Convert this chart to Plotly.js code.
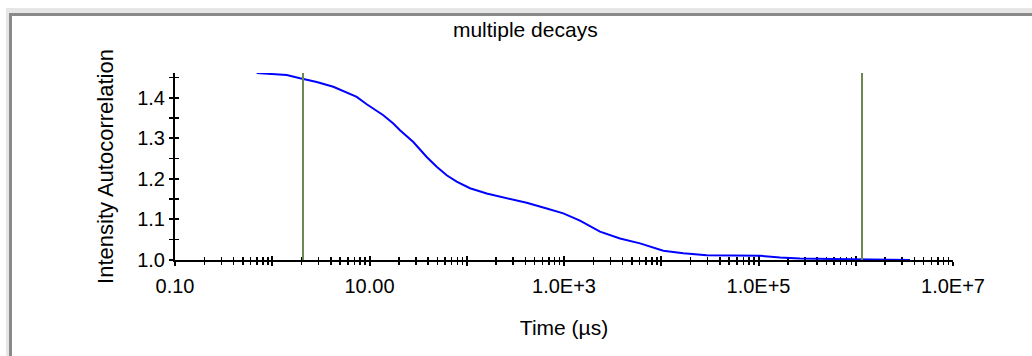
<!DOCTYPE html>
<html>
<head>
<meta charset="utf-8">
<script src="https://cdn.plot.ly/plotly-3.0.1.min.js"></script>
<style>
  html, body { margin: 0; padding: 0; background: #ffffff; }
  #wrap { position: relative; width: 1032px; height: 356px; overflow: hidden; background: #ffffff; }
  .band { position: absolute; }
  #plot { position: absolute; left: 0; top: 0; width: 1032px; height: 356px; }
</style>
</head>
<body>
<div id="wrap">
  <div class="band" style="left:6px; top:8px; width:1026px; height:5px; background:#e6e6e6;"></div>
  <div class="band" style="left:6px; top:8px; width:3px; height:348px; background:#e6e6e6;"></div>
  <div class="band" style="left:9px; top:13px; width:1023px; height:3px; background:#8a8a8a;"></div>
  <div class="band" style="left:9px; top:13px; width:3px; height:343px; background:#8a8a8a;"></div>
  <div id="plot"></div>
</div>
<script>
// Intensity autocorrelation curve (time in µs)
const timeUs = [0.692, 0.948, 1.408, 1.929, 2.866, 4.244, 5.83, 7.39, 9.36, 11.86, 13.87, 17.45, 20.59, 28.21, 38.75, 49.1, 62.2, 78.8, 108, 160.4, 257.6, 413.6, 664, 983, 1460, 2346, 3766, 6046, 10500, 16860, 29340, 54680, 103600, 166400, 267200, 583500, 1.401e6, 3.612e6];
const autocorr = [1.461, 1.459, 1.456, 1.448, 1.439, 1.427, 1.413, 1.402, 1.384, 1.369, 1.357, 1.337, 1.320, 1.291, 1.254, 1.230, 1.209, 1.193, 1.177, 1.164, 1.152, 1.141, 1.127, 1.115, 1.097, 1.070, 1.053, 1.041, 1.023, 1.0165, 1.012, 1.011, 1.0105, 1.006, 1.0037, 1.0025, 1.001, 1.0];

// Cursor marker lines
const cursorTimes = [2.07, 1.16e6];
const cursorSpan = [1.0, 1.461];

// Axis ticks
const xTickVals = [0.1, 1, 10, 100, 1000, 1e4, 1e5, 1e6, 1e7];
const xTickText = ["0.10", "", "10.00", "", "1.0E+3", "", "1.0E+5", "", "1.0E+7"];
const yTickVals = [1.0, 1.1, 1.2, 1.3, 1.4];
const yTickText = ["1.0", "1.1", "1.2", "1.3", "1.4"];
const yMinorVals = [1.05, 1.15, 1.25, 1.35, 1.45];

const xMinorVals = [];
for (let d = -1; d < 7; d++) {
  for (let k = 2; k <= 9; k++) xMinorVals.push(k * Math.pow(10, d));
}

const fam = 'Arial, "Liberation Sans", sans-serif';
const tickFont = {family: fam, size: 20, color: '#000000'};
const titleFont = {family: fam, size: 21, color: '#000000'};
const yTitleFont = {family: fam, size: 22, color: '#000000'};

const traces = [
  {
    x: timeUs, y: autocorr, type: 'scatter', mode: 'lines',
    line: {color: '#0000ff', width: 2}, cliponaxis: false,
    xaxis: 'x', yaxis: 'y', hoverinfo: 'none'
  }
];
cursorTimes.forEach(t => {
  traces.push({
    x: [t, t], y: cursorSpan, type: 'scatter', mode: 'lines',
    line: {color: '#6c8a50', width: 2}, cliponaxis: false,
    xaxis: 'x2', yaxis: 'y2', hoverinfo: 'none'
  });
});

const xRange = [-1, 7];
const yRange = [1.0, 1.461];

const layout = {
  width: 1032, height: 356,
  paper_bgcolor: 'rgba(0,0,0,0)', plot_bgcolor: 'rgba(0,0,0,0)',
  margin: {l: 175, r: 79, t: 73, b: 96},
  showlegend: false,
  font: tickFont,
  title: {
    text: 'multiple decays', font: titleFont,
    xref: 'container', x: 0.509, xanchor: 'center',
    yref: 'container', y: 0.917, yanchor: 'middle'
  },
  xaxis: {
    type: 'log', range: xRange, tickmode: 'array', tickvals: xTickVals, ticktext: xTickText,
    ticks: 'outside', ticklen: 4, tickwidth: 2, tickcolor: '#000',
    minor: {tickmode: 'array', tickvals: xMinorVals, ticks: 'outside', ticklen: 3, tickwidth: 1.5, tickcolor: '#000'},
    showline: true, linecolor: '#000', linewidth: 2, showgrid: false, zeroline: false,
    tickfont: tickFont, ticklabelstandoff: 3, layer: 'below traces',
    title: {text: 'Time (µs)', font: titleFont, standoff: 24},
    automargin: false, fixedrange: true
  },
  yaxis: {
    range: yRange, tickmode: 'array', tickvals: yTickVals, ticktext: yTickText,
    ticks: 'outside', ticklen: 4, tickwidth: 2, tickcolor: '#000',
    minor: {tickmode: 'array', tickvals: yMinorVals, ticks: 'outside', ticklen: 4, tickwidth: 1.5, tickcolor: '#000'},
    showline: true, linecolor: '#000', linewidth: 2, showgrid: false, zeroline: false,
    tickfont: tickFont, ticklabelstandoff: 0, layer: 'below traces',
    title: {text: 'Intensity Autocorrelation', font: yTitleFont, standoff: 17},
    automargin: false, fixedrange: true
  },
  xaxis2: {
    type: 'log', range: xRange, overlaying: 'x', anchor: 'y2', side: 'bottom',
    tickmode: 'array', tickvals: xTickVals, showticklabels: false,
    ticks: 'inside', ticklen: 4, tickwidth: 2, tickcolor: '#000',
    minor: {tickmode: 'array', tickvals: xMinorVals, ticks: 'inside', ticklen: 3, tickwidth: 1.5, tickcolor: '#000'},
    showline: false, showgrid: false, zeroline: false, layer: 'below traces', fixedrange: true
  },
  yaxis2: {
    range: yRange, overlaying: 'y', anchor: 'x2', side: 'left',
    tickmode: 'array', tickvals: yTickVals, showticklabels: false,
    ticks: 'inside', ticklen: 4, tickwidth: 2, tickcolor: '#000',
    minor: {tickmode: 'array', tickvals: yMinorVals, ticks: 'inside', ticklen: 4, tickwidth: 1.5, tickcolor: '#000'},
    showline: false, showgrid: false, zeroline: false, layer: 'below traces', fixedrange: true
  }
};

Plotly.newPlot('plot', traces, layout, {staticPlot: true, displayModeBar: false});
</script>
</body>
</html>
